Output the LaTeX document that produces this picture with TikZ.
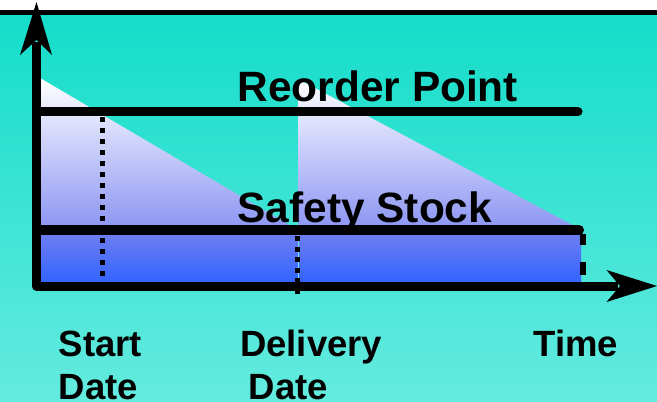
\documentclass[tikz,border=0pt]{standalone}
\usepackage{fontspec}
\setmainfont{Liberation Sans}
\definecolor{bgtop}{RGB}{20,221,201}
\definecolor{bgbot}{RGB}{100,235,223}
\definecolor{tribot}{RGB}{135,145,242}
\definecolor{recttop}{RGB}{108,125,242}
\definecolor{rectbot}{RGB}{51,100,255}
\tikzset{
  heavy/.style={line width=9pt},
  dotline/.style={line width=5pt, dash pattern=on 5pt off 6pt},
  biglabel/.style={anchor=base west, inner sep=0pt, font=\bfseries\fontsize{42.4}{46}\selectfont},
  axlabel/.style={anchor=base west, inner sep=0pt, font=\bfseries\fontsize{36.5}{40}\selectfont},
}
\begin{document}
\begin{tikzpicture}[x=1pt,y=-1pt]
\useasboundingbox (0,0) rectangle (657,402);
% background
\fill[white] (0,0) rectangle (657,13);
\shade[top color=bgtop, bottom color=bgbot] (0,13) rectangle (657,402);
\draw[line width=4.5pt] (0,12.5) -- (657,12.5);
% sawtooth inventory triangles
\shade[top color=white, bottom color=tribot]
  (40,78) -- (298,230) -- (298,235) -- (40,235) -- cycle
  (298,79) -- (580,229) -- (580,235) -- (298,235) -- cycle;
% safety stock block
\shade[top color=recttop, bottom color=rectbot] (40,235) rectangle (581,282);
\draw[bgbot, line width=0.8pt] (298,232) -- (298,282);
% reorder and safety lines
\coordinate (rpL) at (40,111.5);
\coordinate (rpR) at (578,111.5);
\coordinate (ssL) at (40,230);
\coordinate (ssR) at (579,230);
\draw[heavy, line cap=round] (rpL) -- (rpR);
\draw[line width=10pt, line cap=round] (ssL) -- (ssR);
\draw[line width=6pt] (583,234) -- (583,245) (583,262) -- (583,275);
% dotted date lines
\coordinate (sdT) at (102.5,117);
\coordinate (sdB) at (102.5,281);
\coordinate (ddT) at (297.5,236);
\coordinate (ddB) at (297.5,298);
\draw[dotline] (sdT) -- (sdB);
\draw[dotline, dash pattern=on 5pt off 5.6pt] (ddT) -- (ddB);
% axes
\coordinate (yTop) at (36.5,42);
\coordinate (orig) at (36.5,286);
\coordinate (xEnd) at (618,286);
\draw[line width=9pt, line join=round] (yTop) -- (orig) -- (xEnd);
\fill (36.5,2) -- (52,55) -- (36.5,40) -- (20,55) -- cycle;
\fill (657,286) -- (606.5,302) -- (620,286) -- (606.5,270) -- cycle;
% labels
\node[biglabel] (rp) at (237.5,101) {Reorder Point};
\node[biglabel] (ss) at (237.5,222) {Safety Stock};
\node[axlabel] (start) at (58.5,356.7) {Start};
\node[axlabel] (sdate) at (58.5,399) {Date};
\node[axlabel] (deliv) at (240,356.7) {Delivery};
\node[axlabel] (ddate) at (248.5,399) {Date};
\node[axlabel] (time) at (533.5,356.7) {Time};
\end{tikzpicture}
\end{document}
